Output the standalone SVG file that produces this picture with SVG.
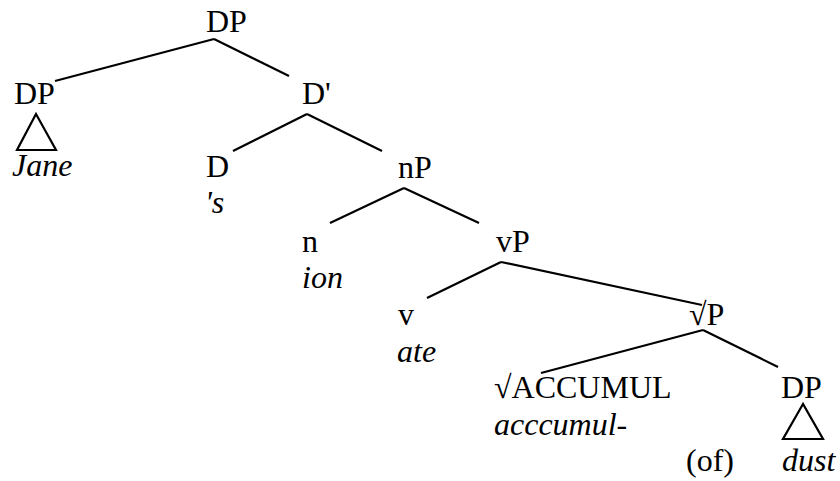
<svg xmlns="http://www.w3.org/2000/svg" width="840" height="481" viewBox="0 0 840 481">
<style>
line,polygon{stroke:#000;stroke-width:2.2;fill:none}
</style>
<rect width="840" height="481" fill="#fff"/>
<g id="connectors">
<line x1="214" y1="39" x2="55" y2="81"/>
<line x1="214" y1="39" x2="289" y2="76"/>
<line x1="307" y1="114" x2="233" y2="151"/>
<line x1="307" y1="114" x2="382" y2="151"/>
<line x1="404" y1="188" x2="330" y2="223"/>
<line x1="404" y1="188" x2="479" y2="223"/>
<line x1="501" y1="262" x2="427" y2="298"/>
<line x1="501" y1="262" x2="702" y2="305"/>
<line x1="703" y1="330" x2="541" y2="373"/>
<line x1="703" y1="330" x2="778" y2="367"/>
</g>
<g font-family="Liberation Serif" font-size="32" fill="#000">
<g id="node-DP-root"><text x="206" y="32">DP</text></g>
<g id="node-DP-jane"><text x="14" y="104">DP</text><polygon points="36,114 17,150 56,150"/><text x="12" y="176" font-style="italic">Jane</text></g>
<g id="node-Dbar"><text x="302" y="104">D'</text></g>
<g id="node-D"><text x="206" y="177">D</text><text x="205" y="213" font-style="italic">'s</text></g>
<g id="node-nP"><text x="398" y="178">nP</text></g>
<g id="node-n"><text x="302" y="252">n</text><text x="302" y="288" font-style="italic">ion</text></g>
<g id="node-vP"><text x="496" y="252">vP</text></g>
<g id="node-v"><text x="398" y="325">v</text><text x="397" y="362" font-style="italic">ate</text></g>
<g id="node-rootP"><text x="689" y="325">√P</text></g>
<g id="node-root"><text x="494" y="398">√ACCUMUL</text><text x="494" y="435" font-style="italic">acccumul-</text></g>
<g id="node-DP-dust"><text x="781" y="398">DP</text><polygon points="803,404 783,439 823,439"/><text x="782" y="471" font-style="italic">dust</text></g>
<g id="node-of"><text x="686" y="471">(of)</text></g>
</g>
</svg>
